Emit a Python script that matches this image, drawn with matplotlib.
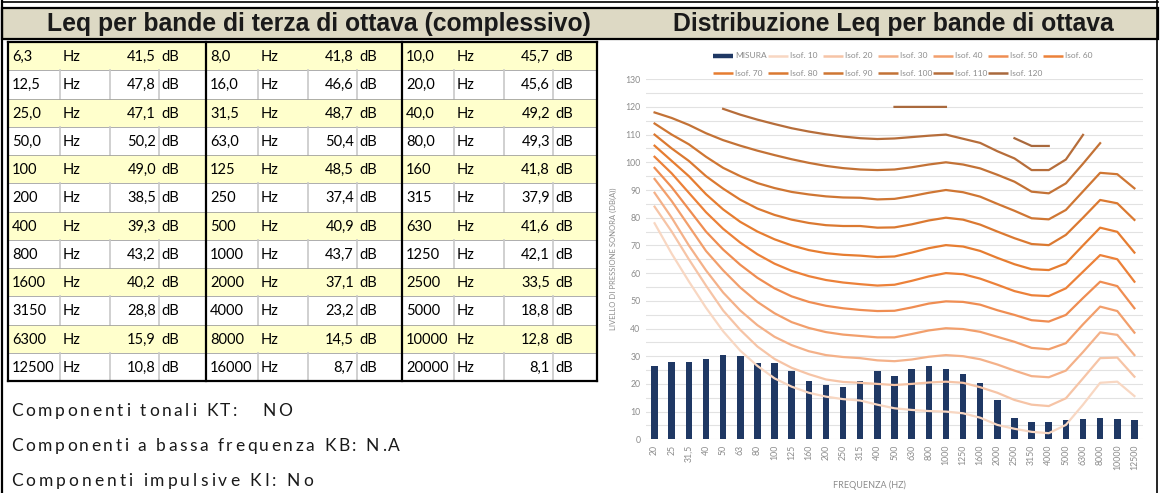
import numpy as np
import matplotlib
matplotlib.use("Agg")
import matplotlib.pyplot as plt
from matplotlib.patches import Rectangle
from matplotlib.font_manager import FontProperties

W, H = 1161, 493
nan = np.nan

# Leq per terze d'ottava (tabella a sinistra)
band_labels = ["6,3", "8,0", "10,0", "12,5", "16,0", "20,0", "25,0", "31,5", "40,0",
               "50,0", "63,0", "80,0", "100", "125", "160", "200", "250", "315",
               "400", "500", "630", "800", "1000", "1250", "1600", "2000", "2500",
               "3150", "4000", "5000", "6300", "8000", "10000", "12500", "16000", "20000"]
band_leq = [41.5, 41.8, 45.7, 47.8, 46.6, 45.6, 47.1, 48.7, 49.2,
            50.2, 50.4, 49.3, 49.0, 48.5, 41.8, 38.5, 37.4, 37.9,
            39.3, 40.9, 41.6, 43.2, 43.7, 42.1, 40.2, 37.1, 33.5,
            28.8, 23.2, 18.8, 15.9, 14.5, 12.8, 10.8, 8.7, 8.1]

notes = ["Componenti tonali KT:   NO",
         "Componenti a bassa frequenza KB: N.A",
         "Componenti impulsive KI: No"]

# grafico: bande, misura e isofoniche
freq_labels = ["20", "25", "31,5", "40", "50", "63", "80", "100", "125", "160", "200",
               "250", "315", "400", "500", "630", "800", "1000", "1250", "1600", "2000",
               "2500", "3150", "4000", "5000", "6300", "8000", "10000", "12500"]
misura = [26.5, 27.8, 28.0, 28.9, 30.6, 29.9, 27.5, 27.5, 24.5, 21.2, 19.6, 18.8, 21.2,
          24.7, 23.0, 25.4, 26.6, 25.4, 23.4, 20.2, 14.2, 7.7, 6.1, 6.3, 6.9, 7.3, 7.6, 7.3, 7.1]

isof_10 = [78, 67, 57, 47.5, 39, 32, 26.5, 22, 19, 16.8, 15.4, 14.5, 14.0, 12.5, 11.2, 10.6, 10.2,
           10.0, 9.4, 7.8, 5.2, 3.8, 2.7, 2.2, 5.2, 12.5, 20.4, 20.8, 15.6]
isof_20 = [84, 75, 65, 55.5, 46.5, 39.5, 33.5, 29, 25.8, 23.5, 21.6, 20.7, 20.4, 20.0, 19.6, 20.0, 20.5,
           20.8, 20.4, 18.8, 16.8, 14.2, 12.5, 12.0, 14.8, 22.0, 29.3, 29.5, 22.6]
isof_30 = [89, 80, 70, 61, 53, 46.5, 41.2, 37, 34, 31.8, 30.4, 29.7, 29.3, 28.5, 28.2, 28.8, 29.8,
           30.4, 30.0, 28.9, 27.0, 24.8, 22.8, 22.4, 24.8, 31.5, 38.6, 37.7, 30.4]
isof_40 = [94, 86, 77, 68, 61, 54.8, 49.6, 45.5, 42.3, 40.2, 38.7, 37.8, 37.3, 36.8, 36.8, 38.0, 39.3,
           40.1, 39.8, 38.8, 37.0, 35.2, 33.0, 32.5, 34.7, 41.5, 47.9, 46.3, 38.5]
isof_50 = [98, 91, 83, 75, 68.5, 63, 58.3, 54.5, 51.6, 49.6, 48.2, 47.3, 46.7, 46.3, 46.4, 47.6, 49.0,
           49.8, 49.6, 48.6, 46.6, 44.9, 43.0, 42.5, 44.9, 51.0, 56.9, 55.3, 47.3]
isof_60 = [102, 96, 89, 82, 76, 71, 66.8, 63.4, 60.8, 58.9, 57.5, 56.6, 56.0, 55.5, 55.8, 57.2, 58.8,
           60.0, 59.6, 58.0, 55.8, 53.5, 52.0, 51.7, 54.5, 60.5, 66.5, 65.0, 56.9]
isof_70 = [106, 100.5, 95, 88.5, 83, 78.5, 75, 72.2, 70, 68.3, 67.2, 66.6, 66.3, 65.8, 66.0, 67.4, 69.0,
           70.1, 69.6, 68.0, 65.5, 63.2, 61.4, 61.1, 63.5, 70.0, 76.4, 74.9, 67.4]
isof_80 = [110, 105, 100.5, 95, 90.5, 86.5, 83.3, 81, 79.3, 78.1, 77.3, 77.0, 77.0, 76.4, 76.5, 77.6,
           79.0, 80.0, 79.3, 77.5, 75.0, 72.6, 70.5, 70.1, 73.8, 80.0, 86.4, 85.2, 79.2]
isof_90 = [114, 110, 106.5, 102, 98, 95, 92.5, 90.7, 89.3, 88.4, 87.7, 87.3, 87.2, 86.6, 86.8, 87.8,
           89.0, 90.0, 89.2, 87.6, 85.0, 82.5, 79.8, 79.4, 82.8, 89.5, 96.2, 95.7, 90.6]
isof_100 = [118, 116, 113.5, 110.5, 108, 106, 104.2, 102.6, 101.1, 99.8, 98.7, 97.9, 97.4, 97.2, 97.4,
            98.2, 99.2, 100.0, 99.2, 97.8, 95.5, 93.0, 89.4, 88.8, 92.4, 99.5, 106.9, nan, nan]
isof_110 = [nan, nan, nan, nan, 119.3, 117.2, 115.4, 113.8, 112.3, 111.1, 110.1, 109.3, 108.7, 108.4,
            108.6, 109.1, 109.6, 110.0, 108.5, 107.0, 104.0, 101.4, 97.2, 97.2, 101.0, 109.9, nan, nan, nan]
isof_120 = [nan, nan, nan, nan, nan, nan, nan, nan, nan, nan, nan, nan, nan, nan, 120, 120, 120, 120,
            nan, nan, nan, 108.7, 105.9, 105.9, nan, nan, nan, nan, nan]

isofoniche = [isof_10, isof_20, isof_30, isof_40, isof_50, isof_60,
              isof_70, isof_80, isof_90, isof_100, isof_110, isof_120]
iso_names = ["Isof. 10", "Isof. 20", "Isof. 30", "Isof. 40", "Isof. 50", "Isof. 60",
             "Isof. 70", "Isof. 80", "Isof. 90", "Isof. 100", "Isof. 110", "Isof. 120"]
iso_colors = ["#F8D7C2", "#F6C4A6", "#F4B189", "#F29F6C", "#EF8D52", "#EC8139",
              "#E67D31", "#DB7931", "#CF7633", "#C37236", "#B66D3A", "#A9693D"]

NAVY = "#1F3864"
YELLOW = "#FFFFCC"
BEIGE = "#DDD9C4"
GREY_TXT = "#8C8C8C"

fig = plt.figure(figsize=(W / 100, H / 100), dpi=100)

# sfondo in coordinate pixel: intestazione, tabella, note
bg = fig.add_axes([0, 0, 1, 1])
bg.set_xlim(0, W)
bg.set_ylim(H, 0)
bg.axis("off")

bg.add_patch(Rectangle((2, 8), W - 5, 31, fc=BEIGE, ec="black", lw=1.6))
bg.plot([2, W - 3], [2, 2], color="black", lw=1.2)
bg.plot([2, 2], [0, H], color="black", lw=1.6)
bg.plot([W - 4, W - 4], [0, H], color="black", lw=1.2)
bg.text(319, 24, "Leq per bande di terza di ottava (complessivo)", ha="center", va="center",
        fontsize=17.8, fontweight="bold", family="Liberation Sans", color="#1a1a1a")
bg.text(893, 24, "Distribuzione Leq per bande di ottava", ha="center", va="center",
        fontsize=17.8, fontweight="bold", family="Liberation Sans", color="#1a1a1a")

x_groups = [8, 206, 402, 597]
row_top, row_h = 42, 28.25
n_rows = len(band_labels) // 3
cell_font = dict(family="Lato", fontsize=10.5, color="black", va="center")
for r in range(n_rows):
    y0 = row_top + r * row_h
    yc = y0 + row_h / 2 + 1
    if r % 2 == 0:
        bg.add_patch(Rectangle((x_groups[0], y0), x_groups[-1] - x_groups[0], row_h,
                               fc=YELLOW, ec="none", zorder=1))
    if r > 0:
        bg.plot([x_groups[0], x_groups[-1]], [y0, y0], color="#A0A0A0", lw=0.6, zorder=2)
    for g in range(3):
        k = r * 3 + g
        gx = x_groups[g]
        bg.text(gx + 4, yc, band_labels[k], ha="left", zorder=3, **cell_font)
        bg.text(gx + 55, yc, "Hz", ha="left", zorder=3, **cell_font)
        bg.text(gx + 148, yc, f"{band_leq[k]:.1f}".replace(".", ","), ha="right", zorder=3, **cell_font)
        bg.text(gx + 153, yc, "dB", ha="left", zorder=3, **cell_font)
        if r % 2 == 1:
            for dx in (52, 102, 151):
                bg.plot([gx + dx, gx + dx], [y0, y0 + row_h], color="#C8C8C8", lw=1.2, zorder=2)

table_bottom = row_top + n_rows * row_h
for gx in x_groups:
    bg.plot([gx, gx], [row_top, table_bottom], color="black", lw=1.6, zorder=4)
bg.plot([x_groups[0], x_groups[-1]], [row_top, row_top], color="black", lw=1.6, zorder=4)
bg.plot([x_groups[0], x_groups[-1]], [table_bottom, table_bottom], color="black", lw=1.6, zorder=4)

# note in basso, con spaziatura delle lettere allargata
renderer = fig.canvas.get_renderer()
note_fp = FontProperties(family="Lato", size=12.5)


def text_width(t):
    wx, _, _ = renderer.get_text_width_height_descent("x", note_fp, ismath=False)
    wt, _, _ = renderer.get_text_width_height_descent(t + "x", note_fp, ismath=False)
    return wt - wx


def tracked_text(x, y, s, total):
    extra = (total - text_width(s)) / (len(s) - 1)
    for k, ch in enumerate(s):
        if ch != " ":
            bg.text(x + text_width(s[:k]) + k * extra, y, ch, fontproperties=note_fp,
                    ha="left", va="center", color="#1a1a1a")


for s, y, w in zip(notes, (411, 446, 481), (281, 389, 302)):
    tracked_text(11, y, s, w)

# legenda del grafico
leg_x0, leg_dx = 713, 55
handles = [("MISURA", NAVY, 3.2)] + [(n, c, 1.8) for n, c in zip(iso_names, iso_colors)]
for k, (name, col, lw) in enumerate(handles):
    row, col_i = divmod(k, 7)
    lx = leg_x0 + col_i * leg_dx
    ly = 56 + row * 17
    bg.plot([lx, lx + 20], [ly, ly], color=col, lw=lw, solid_capstyle="butt")
    bg.text(lx + 22, ly, name, fontsize=6, family="Lato", color=GREY_TXT, va="center", ha="left")

# grafico Leq per bande
ax = fig.add_axes([646 / W, (H - 439.3) / H, 497 / W, 360.1 / H])
ax.patch.set_alpha(0)
x = np.arange(len(freq_labels))
ax.bar(x, misura, width=0.38, color=NAVY, zorder=3)
for vals, col in zip(isofoniche, iso_colors):
    ax.plot(x, vals, color=col, lw=1.6, zorder=4, solid_joinstyle="round")

ax.set_xlim(-0.5, len(freq_labels) - 0.5)
ax.set_ylim(0, 130)
ax.set_yticks(np.arange(0, 131, 10))
ax.set_yticks(np.arange(5, 130, 10), minor=True)
ax.grid(axis="y", which="both", color="#E2E2E2", lw=0.8, zorder=0)
ax.set_xticks(x)
ax.set_xticklabels(freq_labels, rotation=90, fontsize=6.3, family="Lato", color=GREY_TXT)
ax.tick_params(axis="both", which="both", length=0, pad=4)
for lab in ax.get_yticklabels():
    lab.set_fontsize(6.3)
    lab.set_family("Lato")
    lab.set_color(GREY_TXT)
for sp in ax.spines.values():
    sp.set_visible(False)
ax.set_ylabel("LIVELLO DI PRESSIONE SONORA (DB(A))", fontsize=5.5, family="Lato",
              color=GREY_TXT, labelpad=6)
ax.set_xlabel("FREQUENZA (HZ)", fontsize=6.5, family="Lato", color=GREY_TXT)
ax.xaxis.set_label_coords(0.45, -0.127)
ax.xaxis.label.set_va("center")

fig.savefig("out.png", dpi=100)
